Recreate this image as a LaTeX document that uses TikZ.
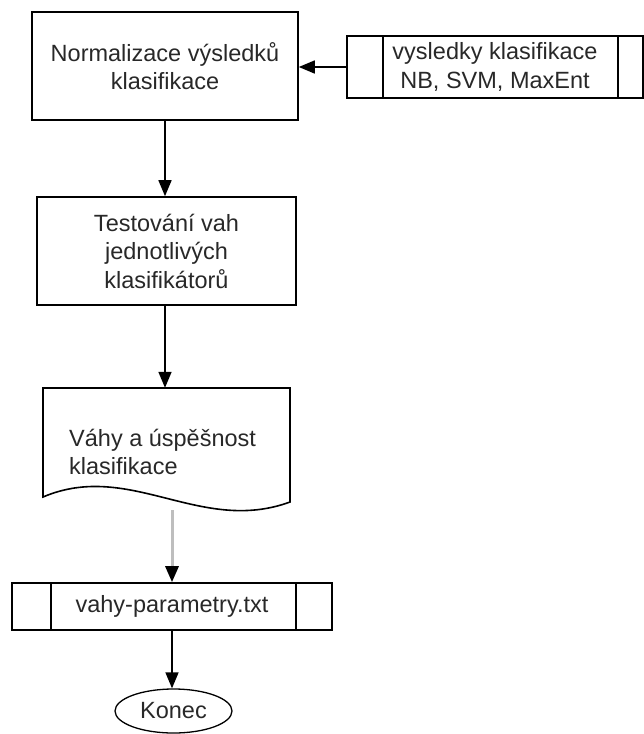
\documentclass[tikz,border=0pt]{standalone}
\usepackage{fontspec}
\setmainfont{Liberation Sans}
\usetikzlibrary{arrows.meta,calc,shapes.geometric}
\definecolor{txtc}{RGB}{40,40,40}
\definecolor{grayline}{RGB}{190,190,190}
\begin{document}
\begin{tikzpicture}[x=1pt,y=-1pt,
  txt/.style={font=\fontsize{23.5}{28.5}\selectfont,text=txtc},
  procbox/.style={draw,line width=1.6pt,align=center,inner sep=0pt,txt},
  filebox/.style={draw,line width=1.6pt,align=center,inner sep=0pt,txt},
  arr/.style={line width=1.6pt,-{Triangle[length=16pt,width=13pt]}},
  grayarr/.style={line width=3pt,draw=grayline,-{Triangle[length=16pt,width=13pt,color=black]}}]
\useasboundingbox (0,0) rectangle (644,734);
% process boxes
\node[procbox,minimum width=266pt,minimum height=108pt] (n1) at (165,66)
  {Normalizace výsledků\\klasifikace};
\node[procbox,minimum width=259pt,minimum height=108pt] (n2) at (166.5,251)
  {Testování vah\\jednotlivých\\klasifikátorů};
% input file box
\node[filebox,minimum width=296pt,minimum height=62pt] (in) at (495,67)
  {vysledky klasifikace\\NB, SVM, MaxEnt};
\draw[line width=1.6pt] ($(in.north west)+(37,0)$) -- ($(in.south west)+(37,0)$);
\draw[line width=1.6pt] ($(in.north east)+(-26,0)$) -- ($(in.south east)+(-26,0)$);
% document shape
\node[minimum width=247pt,minimum height=109pt,inner sep=0pt] (doc) at (166.5,442.5) {};
\draw[line width=1.6pt] (43,497) -- (43,388) -- (290,388) -- (290,502)
  .. controls (200,535) and (130,460) .. (43,497) -- cycle;
\node[txt,align=left,anchor=west,inner sep=0pt] (doctext) at (69,452)
  {Váhy a úspěšnost\\klasifikace};
\coordinate (docb) at (172,510);
% output file box
\node[filebox,minimum width=320pt,minimum height=47pt] (file) at (172,606.5)
  {vahy-parametry.txt};
\draw[line width=1.6pt] ($(file.north west)+(40,0)$) -- ($(file.south west)+(40,0)$);
\draw[line width=1.6pt] ($(file.north east)+(-37,0)$) -- ($(file.south east)+(-37,0)$);
% terminator
\node[draw,ellipse,line width=1.3pt,minimum width=117pt,minimum height=44pt,inner sep=0pt,txt] (end) at (173.5,711) {Konec};
% connectors
\draw[arr] (in.west) -- (n1.east |- in.west);
\draw[arr] (n1.south) -- (n1.south |- n2.north);
\draw[arr] (n2.south -| n1.south) -- (n1.south |- doc.north);
\draw[grayarr] (docb) -- (docb |- file.north);
\draw[arr] (file.south) -- (file.south |- end.north);
\end{tikzpicture}
\end{document}
